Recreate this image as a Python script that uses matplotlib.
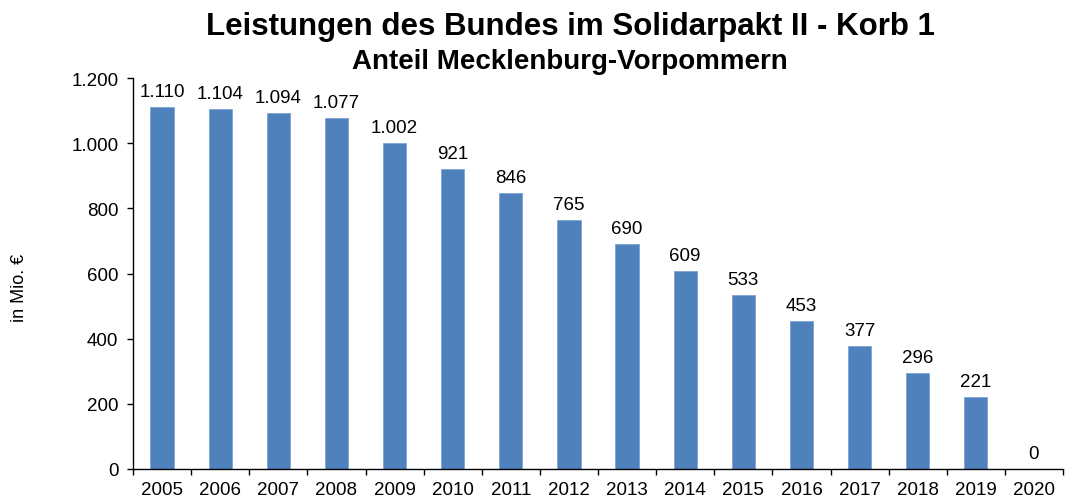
import matplotlib
matplotlib.use("Agg")
import matplotlib.pyplot as plt
from matplotlib.ticker import FixedLocator

plt.rcParams['font.family'] = ['Liberation Sans', 'DejaVu Sans']

years = [str(y) for y in range(2005, 2021)]
values = [1110, 1104, 1094, 1077, 1002, 921, 846, 765, 690, 609, 533, 453, 377, 296, 221, 0]
yticks = [0, 200, 400, 600, 800, 1000, 1200]
ytick_labels = ["0", "200", "400", "600", "800", "1.000", "1.200"]
value_labels = ["1.110", "1.104", "1.094", "1.077", "1.002", "921", "846", "765", "690",
                "609", "533", "453", "377", "296", "221", "0"]

W, H = 1065, 502
fig = plt.figure(figsize=(W / 100, H / 100), dpi=100)
ax = fig.add_axes([133 / W, 32 / H, (1063 - 133) / W, (470 - 79) / H])

x = list(range(len(years)))
ax.bar(x, values, width=0.4, color='#4F81BD', edgecolor='#7FA3D3', linewidth=0.6, zorder=2)

for xi, v, lab in zip(x, values, value_labels):
    ax.annotate(lab, (xi, v), xytext=(0, 5), textcoords='offset points',
                ha='center', va='bottom', fontsize=13.5, color='black')

ax.set_xlim(-0.5, len(years) - 0.5)
ax.set_ylim(0, 1200)
ax.set_xticks(x)
ax.set_xticklabels(years, fontsize=13.5)
ax.tick_params(axis='x', which='major', length=0, pad=9)
ax.xaxis.set_minor_locator(FixedLocator([i - 0.5 for i in range(len(years) + 1)]))
ax.tick_params(axis='x', which='minor', length=4.5, direction='out', color='black', width=1)

ax.set_yticks(yticks)
ax.set_yticklabels(ytick_labels, fontsize=13.5)
ax.tick_params(axis='y', length=4.5, direction='out', width=1, pad=6)

for s in ['top', 'right']:
    ax.spines[s].set_visible(False)
for s in ['left', 'bottom']:
    ax.spines[s].set_color('black')
    ax.spines[s].set_linewidth(1)

fig.text(20 / W, 1 - 288 / H, 'in Mio. €', rotation=90, ha='center', va='center', fontsize=13)

fig.text(570 / W, 1 - 27 / H, 'Leistungen des Bundes im Solidarpakt II - Korb 1',
         ha='center', va='center', fontsize=22.5, fontweight='bold')
fig.text(570 / W, 1 - 62 / H, 'Anteil Mecklenburg-Vorpommern',
         ha='center', va='center', fontsize=20, fontweight='bold')

fig.savefig('out.png', dpi=100)
